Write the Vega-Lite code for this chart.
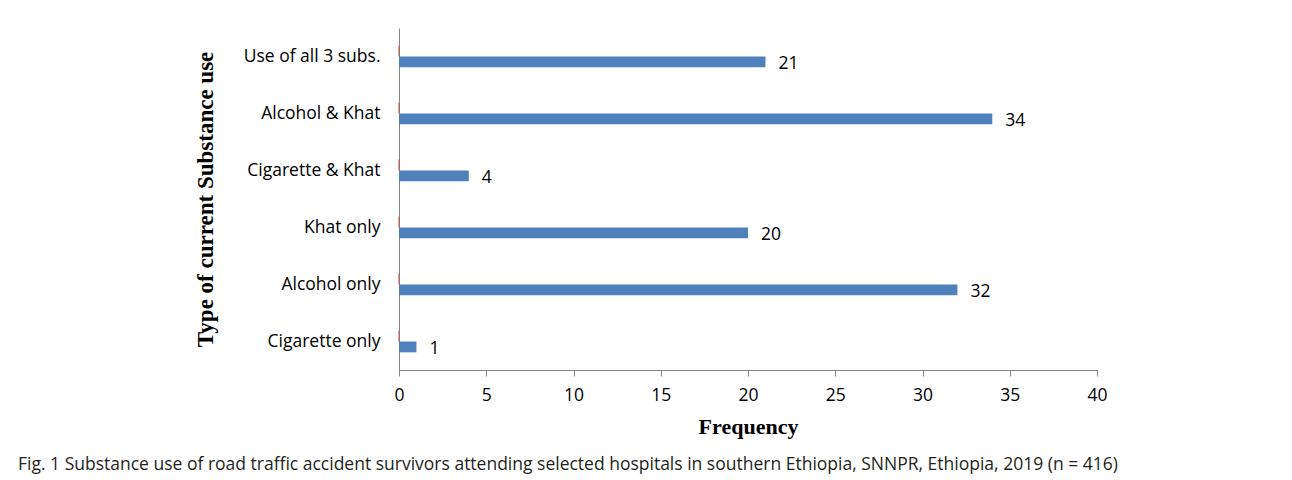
{
  "$schema": "https://vega.github.io/schema/vega-lite/v6.json",
  "autosize": {"type": "none"},
  "padding": {"left": 399, "top": 28, "right": 195, "bottom": 110},
  "width": 698,
  "height": 342,
  "background": "white",
  "title": {
    "text": "Fig. 1 Substance use of road traffic accident survivors attending selected hospitals in southern Ethiopia, SNNPR, Ethiopia, 2019 (n = 416)",
    "orient": "bottom",
    "anchor": "start",
    "frame": "group",
    "dx": -381,
    "offset": 18,
    "font": "Open Sans",
    "fontSize": 17.5,
    "fontWeight": "normal",
    "color": "#231f20"
  },
  "data": {
    "values": [
      {"category": "Use of all 3 subs.", "series": "Series2", "value": 0},
      {"category": "Alcohol & Khat", "series": "Series2", "value": 0},
      {"category": "Cigarette & Khat", "series": "Series2", "value": 0},
      {"category": "Khat only", "series": "Series2", "value": 0},
      {"category": "Alcohol only", "series": "Series2", "value": 0},
      {"category": "Cigarette only", "series": "Series2", "value": 0},
      {"category": "Use of all 3 subs.", "series": "Frequency", "value": 21},
      {"category": "Alcohol & Khat", "series": "Frequency", "value": 34},
      {"category": "Cigarette & Khat", "series": "Frequency", "value": 4},
      {"category": "Khat only", "series": "Frequency", "value": 20},
      {"category": "Alcohol only", "series": "Frequency", "value": 32},
      {"category": "Cigarette only", "series": "Frequency", "value": 1}
    ]
  },
  "encoding": {
    "y": {
      "field": "category",
      "type": "nominal",
      "sort": ["Use of all 3 subs.", "Alcohol & Khat", "Cigarette & Khat", "Khat only", "Alcohol only", "Cigarette only"],
      "scale": {"paddingInner": 0.62, "paddingOuter": 0.31},
      "axis": {
        "title": "Type of current Substance use",
        "titleFont": "Liberation Serif",
        "titleFontSize": 23,
        "titleFontWeight": "bold",
        "titleColor": "black",
        "titleX": -182,
        "labelFont": "Open Sans",
        "labelFontSize": 17.5,
        "labelColor": "black",
        "labelPadding": 19,
        "ticks": false,
        "domainColor": "#868686",
        "grid": false
      }
    },
    "yOffset": {
      "field": "series",
      "type": "nominal",
      "sort": ["Series2", "Frequency"],
      "scale": {"domain": ["Series2", "Frequency"], "paddingInner": 0, "paddingOuter": 0}
    },
    "x": {
      "field": "value",
      "type": "quantitative",
      "scale": {"domain": [0, 40], "nice": false},
      "axis": {
        "title": "Frequency",
        "titleFont": "Liberation Serif",
        "titleFontSize": 22,
        "titleFontWeight": "bold",
        "titleColor": "black",
        "titlePadding": 13,
        "values": [0, 5, 10, 15, 20, 25, 30, 35, 40],
        "labelFlush": false,
        "labelFont": "Open Sans",
        "labelFontSize": 17.5,
        "labelColor": "black",
        "labelPadding": 10,
        "tickSize": 6,
        "tickColor": "#868686",
        "domainColor": "#868686",
        "grid": false
      }
    }
  },
  "layer": [
    {
      "transform": [{"filter": "datum.series === 'Frequency'"}],
      "mark": {"type": "bar", "color": "#4f81bd"}
    },
    {
      "transform": [{"filter": "datum.series === 'Series2'"}],
      "mark": {"type": "bar", "color": "#c0504d", "stroke": "#c0504d", "strokeWidth": 1, "strokeOpacity": 0.6}
    },
    {
      "transform": [{"filter": "datum.series === 'Frequency'"}],
      "mark": {"type": "text", "align": "left", "baseline": "middle", "dx": 13, "dy": 2, "font": "Open Sans", "fontSize": 17.5, "color": "black"},
      "encoding": {"text": {"field": "value", "type": "quantitative"}}
    }
  ],
  "config": {"view": {"stroke": null}}
}
